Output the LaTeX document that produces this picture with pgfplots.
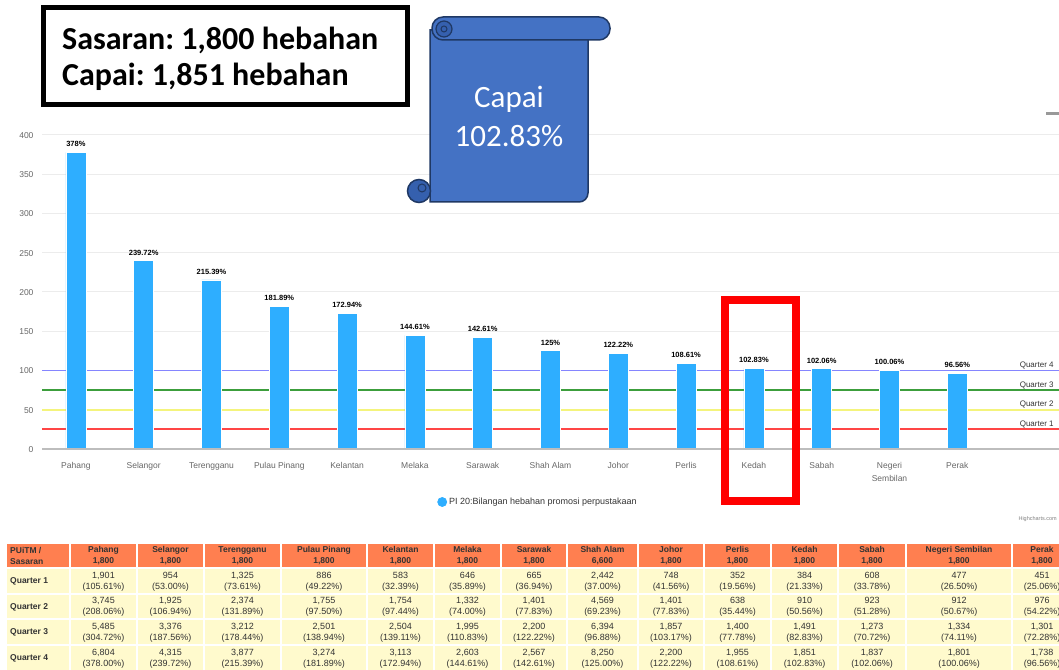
\documentclass[border=0pt]{standalone}
\usepackage{pgfplots}
\usepackage{pgfplotstable}
\pgfplotsset{compat=1.18}
\usepackage{fontspec}
\setmainfont{Liberation Sans}
\newfontfamily\carlito{Carlito}
\frenchspacing
\definecolor{barblue}{HTML}{2EAEFF}
\definecolor{qfour}{HTML}{8585FF}
\definecolor{qthree}{HTML}{3C9E3C}
\definecolor{qtwo}{HTML}{F4F47C}
\definecolor{qone}{HTML}{FF4545}
\definecolor{gridc}{HTML}{ECECEC}
\definecolor{basec}{HTML}{BDBDBD}
\definecolor{tickc}{HTML}{666666}
\definecolor{hdr}{HTML}{FF7F50}
\definecolor{rowc}{HTML}{FFFACD}
\definecolor{txt}{HTML}{333333}
\definecolor{sfill}{HTML}{4472C4}
\definecolor{sline}{HTML}{1F3864}
\definecolor{scurl}{HTML}{3560AE}

\pgfplotstableread{
x val label
0 378 378
1 239.72 239.72
2 215.39 215.39
3 181.89 181.89
4 172.94 172.94
5 144.61 144.61
6 142.61 142.61
7 125 125
8 122.22 122.22
9 108.61 108.61
10 102.83 102.83
11 102.06 102.06
12 100.06 100.06
13 96.56 96.56
}\bardata

\begin{document}
\begin{tikzpicture}
\useasboundingbox (0pt,0pt) rectangle (1059pt,669pt);
\clip (0pt,0pt) rectangle (1059pt,669pt);
\begin{axis}[
  at={(42pt,220pt)}, anchor=south west,
  scale only axis, width=1017pt, height=314pt,
  xmin=-0.5, xmax=14.5, ymin=0, ymax=400,
  axis line style={draw=none},
  major tick length=0pt,
  ytick={0,50,...,400},
  ymajorgrids, grid style={gridc, line width=1pt},
  xtick={0,...,13},
  xticklabels={Pahang,Selangor,Terengganu,Pulau Pinang,Kelantan,Melaka,Sarawak,Shah Alam,Johor,Perlis,Kedah,Sabah,{Negeri\\Sembilan},Perak},
  xticklabel style={font=\fontsize{8.5}{13}\selectfont, text=tickc, align=center, yshift=-7pt},
  typeset ticklabels with strut,
  yticklabel style={font=\fontsize{8.5}{10}\selectfont, text=tickc, xshift=-5pt, yshift=-1.5pt},
  /pgf/number format/assume math mode=true,
  legend style={at={(0.3885,-0.1688)}, anchor=west, draw=none, fill=none,
    font=\fontsize{9}{10}\selectfont, text=txt, inner sep=0pt},
  clip=false,
]
\addplot[qone, line width=1.8pt, forget plot] coordinates {(-0.5,25) (14.5,25)};
\addplot[qtwo, line width=1.8pt, forget plot] coordinates {(-0.5,50) (14.5,50)};
\addplot[qthree, line width=1.8pt, forget plot] coordinates {(-0.5,75) (14.5,75)};
\addplot[qfour, line width=1.8pt, forget plot] coordinates {(-0.5,100) (14.5,100)};
\addplot[ybar, bar width=20pt, fill=barblue, draw=white, line width=0.8pt,
  point meta=explicit symbolic,
  nodes near coords={\pgfplotspointmeta\%},
  every node near coord/.append style={font=\bfseries\fontsize{7.5}{8}\selectfont, text=black, anchor=south, yshift=2pt},
  legend image code/.code={\fill[barblue] (-7pt,0pt) circle (4.5pt);}]
  table[x=x, y=val, meta=label] \bardata;
\addlegendentry{PI 20:Bilangan hebahan promosi perpustakaan}
\addplot[basec, line width=1.5pt, forget plot] coordinates {(-0.5,0) (14.5,0)};
\node[anchor=base west, font=\fontsize{8}{9}\selectfont, text=txt, yshift=3pt] at (axis cs:13.87,100) {Quarter 4};
\node[anchor=base west, font=\fontsize{8}{9}\selectfont, text=txt, yshift=3pt] at (axis cs:13.87,75) {Quarter 3};
\node[anchor=base west, font=\fontsize{8}{9}\selectfont, text=txt, yshift=3pt] at (axis cs:13.87,50) {Quarter 2};
\node[anchor=base west, font=\fontsize{8}{9}\selectfont, text=txt, yshift=3pt] at (axis cs:13.87,25) {Quarter 1};
\end{axis}

\begin{scope}[x=1pt, y=-1pt, shift={(0pt,669pt)}]
% highcharts credit and artifact
\node[anchor=west, font=\fontsize{5.5}{6}\selectfont, text=gray] at (1015,519) {Highcharts.com};
\fill[gray!80] (1046,112) rectangle (1059,115);
% red highlight
\draw[red, line width=8pt] (725,300) rectangle (796,501);
% text box
\draw[black, line width=5pt] (43.5,7.5) rectangle (407.5,104.5);
\node[anchor=base west, inner sep=0pt, font=\carlito\bfseries\fontsize{32}{38}\selectfont] at (62,50) {Sasaran: 1,800 hebahan};
\node[anchor=base west, inner sep=0pt, font=\carlito\bfseries\fontsize{32}{38}\selectfont] at (62,86) {Capai: 1,851 hebahan};
% scroll
\filldraw[fill=sfill, draw=sline, line width=1.5pt] (430,30) -- (430,202) {[rounded corners=9pt] -- (588,202) -- (588,30)} -- cycle;
\filldraw[fill=sfill, draw=sline, line width=1.5pt, rounded corners=11pt] (432,17) rectangle (610,40);
\filldraw[fill=scurl, draw=sline, line width=1.2pt] (444,29) circle (8pt);
\draw[sline, line width=1pt] (444,29) circle (3pt);
\filldraw[fill=scurl, draw=sline, line width=1.5pt] (419,191) circle (11.5pt);
\draw[sline, line width=1pt] (422,188) circle (4pt);
\node[anchor=base, inner sep=0pt, text=white, font=\carlito\fontsize{31}{36}\selectfont] at (509,108) {Capai};
\node[anchor=base, inner sep=0pt, text=white, font=\carlito\fontsize{31}{36}\selectfont] at (509,147) {102.83\%};
% table
\tikzset{tcell/.style={align=center, text=txt, inner sep=0pt, font=\fontsize{9}{11}\selectfont}}
\fill[hdr] (7,544) rectangle (69.25,567.25);
\fill[rowc] (7,568.75) rectangle (69.25,593.25);
\fill[rowc] (7,594.75) rectangle (69.25,618.25);
\fill[rowc] (7,619.75) rectangle (69.25,644.25);
\fill[rowc] (7,645.75) rectangle (69.25,671);
\node[tcell, anchor=west, align=left, font=\bfseries\fontsize{8.5}{11}\selectfont] at (10,556) {PUiTM /\\Sasaran};
\node[tcell, anchor=west, font=\bfseries\fontsize{8.5}{11}\selectfont] at (10,581.5) {Quarter 1};
\node[tcell, anchor=west, font=\bfseries\fontsize{8.5}{11}\selectfont] at (10,607) {Quarter 2};
\node[tcell, anchor=west, font=\bfseries\fontsize{8.5}{11}\selectfont] at (10,632.5) {Quarter 3};
\node[tcell, anchor=west, font=\bfseries\fontsize{8.5}{11}\selectfont] at (10,658.5) {Quarter 4};
\foreach \l/\r/\h/\qa/\qb/\qc/\qd in {
70/137/{Pahang\\1,800}/{1,901\\(105.61\%)}/{3,745\\(208.06\%)}/{5,485\\(304.72\%)}/{6,804\\(378.00\%)},
137/204/{Selangor\\1,800}/{954\\(53.00\%)}/{1,925\\(106.94\%)}/{3,376\\(187.56\%)}/{4,315\\(239.72\%)},
204/281/{Terengganu\\1,800}/{1,325\\(73.61\%)}/{2,374\\(131.89\%)}/{3,212\\(178.44\%)}/{3,877\\(215.39\%)},
281/367/{Pulau Pinang\\1,800}/{886\\(49.22\%)}/{1,755\\(97.50\%)}/{2,501\\(138.94\%)}/{3,274\\(181.89\%)},
367/434/{Kelantan\\1,800}/{583\\(32.39\%)}/{1,754\\(97.44\%)}/{2,504\\(139.11\%)}/{3,113\\(172.94\%)},
434/501/{Melaka\\1,800}/{646\\(35.89\%)}/{1,332\\(74.00\%)}/{1,995\\(110.83\%)}/{2,603\\(144.61\%)},
501/567/{Sarawak\\1,800}/{665\\(36.94\%)}/{1,401\\(77.83\%)}/{2,200\\(122.22\%)}/{2,567\\(142.61\%)},
567/638/{Shah Alam\\6,600}/{2,442\\(37.00\%)}/{4,569\\(69.23\%)}/{6,394\\(96.88\%)}/{8,250\\(125.00\%)},
638/704/{Johor\\1,800}/{748\\(41.56\%)}/{1,401\\(77.83\%)}/{1,857\\(103.17\%)}/{2,200\\(122.22\%)},
704/771/{Perlis\\1,800}/{352\\(19.56\%)}/{638\\(35.44\%)}/{1,400\\(77.78\%)}/{1,955\\(108.61\%)},
771/838/{Kedah\\1,800}/{384\\(21.33\%)}/{910\\(50.56\%)}/{1,491\\(82.83\%)}/{1,851\\(102.83\%)},
838/906/{Sabah\\1,800}/{608\\(33.78\%)}/{923\\(51.28\%)}/{1,273\\(70.72\%)}/{1,837\\(102.06\%)},
906/1012/{Negeri Sembilan\\1,800}/{477\\(26.50\%)}/{912\\(50.67\%)}/{1,334\\(74.11\%)}/{1,801\\(100.06\%)},
1012/1072/{Perak\\1,800}/{451\\(25.06\%)}/{976\\(54.22\%)}/{1,301\\(72.28\%)}/{1,738\\(96.56\%)}}{
  \fill[hdr] (\l+0.75,544) rectangle (\r-0.75,567.25);
  \fill[rowc] (\l+0.75,568.75) rectangle (\r-0.75,593.25);
  \fill[rowc] (\l+0.75,594.75) rectangle (\r-0.75,618.25);
  \fill[rowc] (\l+0.75,619.75) rectangle (\r-0.75,644.25);
  \fill[rowc] (\l+0.75,645.75) rectangle (\r-0.75,671);
  \node[tcell, font=\bfseries\fontsize{8.5}{11}\selectfont] at ({(\l+\r)/2},556) {\h};
  \node[tcell] at ({(\l+\r)/2},581.5) {\qa};
  \node[tcell] at ({(\l+\r)/2},607) {\qb};
  \node[tcell] at ({(\l+\r)/2},632.5) {\qc};
  \node[tcell] at ({(\l+\r)/2},658.5) {\qd};
}
\end{scope}
\end{tikzpicture}
\end{document}
